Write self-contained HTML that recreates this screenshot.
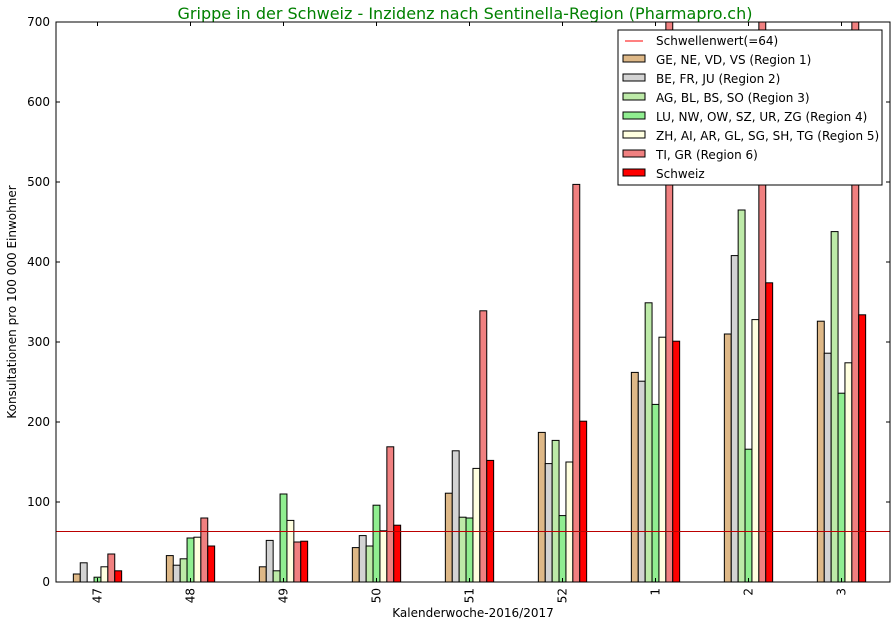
<!DOCTYPE html>
<html><head><meta charset="utf-8"><style>body{margin:0;background:#fff}svg{display:block}text{font-family:"DejaVu Sans","Liberation Sans",sans-serif}</style></head>
<body>
<svg width="896" height="626" xmlns="http://www.w3.org/2000/svg">
<defs><clipPath id="c"><rect x="56" y="22" width="834" height="560"/></clipPath></defs>
<text x="465" y="19" font-size="16" fill="#008000" text-anchor="middle">Grippe in der Schweiz - Inzidenz nach Sentinella-Region (Pharmapro.ch)</text>
<g id="bars" clip-path="url(#c)" stroke="#000" stroke-width="1"></g>
<line x1="56" x2="890" y1="531.5" y2="531.5" stroke="#b00" stroke-width="1"/>
<rect x="56" y="22" width="834" height="560" fill="none" stroke="#000"/>
<g id="ax" font-size="12"></g>
<text x="473" y="617" font-size="12" text-anchor="middle">Kalenderwoche-2016/2017</text>
<text transform="translate(16,302) rotate(-90)" font-size="12" text-anchor="middle">Konsultationen pro 100 000 Einwohner</text>
<g font-size="12">
<rect x="618" y="30" width="264" height="155" fill="#fff" stroke="#000"/>
<line x1="625" x2="643" y1="41" y2="41" stroke="red"/>
<text x="656" y="45">Schwellenwert(=64)</text>
<g id="leg" stroke="#000"></g>
</g>
<script>
var cols=["#deb887","#d3d3d3","#bdeaa8","#90ee90","#ffffe0","#f08080","#ff0000"];
var names=["GE, NE, VD, VS (Region 1)","BE, FR, JU (Region 2)","AG, BL, BS, SO (Region 3)","LU, NW, OW, SZ, UR, ZG (Region 4)","ZH, AI, AR, GL, SG, SH, TG (Region 5)","TI, GR (Region 6)","Schweiz"];
var labs=["47","48","49","50","51","52","1","2","3"];
var d=[[10,24,0,6,19,35,14],[33,21,29,55,56,80,45],[19,52,14,110,77,50,51],[43,58,45,96,64,169,71],[111,164,81,80,142,339,152],[187,148,177,83,150,497,201],[262,251,349,222,306,800,301],[310,408,465,166,328,800,374],[326,286,438,236,274,800,334]];
var ns="http://www.w3.org/2000/svg",b=document.getElementById("bars"),ax=document.getElementById("ax"),lg=document.getElementById("leg");
function el(p,t,a){var e=document.createElementNS(ns,t);for(var k in a)e.setAttribute(k,a[k]);p.appendChild(e);return e;}
var w=6.9;
d.forEach(function(g,i){var cx=97.5+i*93;g.forEach(function(v,j){if(v<=0)return;var x=cx-3.5*w+j*w;el(b,"rect",{x:x,y:582-v*0.8,width:w,height:v*0.8,fill:cols[j]});});
el(ax,"line",{x1:cx,x2:cx,y1:582,y2:578,stroke:"#000"});el(ax,"line",{x1:cx,x2:cx,y1:22,y2:26,stroke:"#000"});
var t=el(ax,"text",{transform:"translate("+(cx+4)+",588) rotate(-90)","text-anchor":"end"});t.textContent=labs[i];});
for(var v=0;v<=700;v+=100){var y=582-v*0.8;el(ax,"line",{x1:56,x2:60,y1:y,y2:y,stroke:"#000"});el(ax,"line",{x1:886,x2:890,y1:y,y2:y,stroke:"#000"});var t=el(ax,"text",{x:50,y:y+4,"text-anchor":"end"});t.textContent=v;}
names.forEach(function(n,j){var y=60+j*19;el(lg,"rect",{x:623,y:y-5,width:22,height:7,fill:cols[j]});var t=el(lg,"text",{x:656,y:y+4,stroke:"none"});t.textContent=n;});
</script>
</svg>
</body></html>
